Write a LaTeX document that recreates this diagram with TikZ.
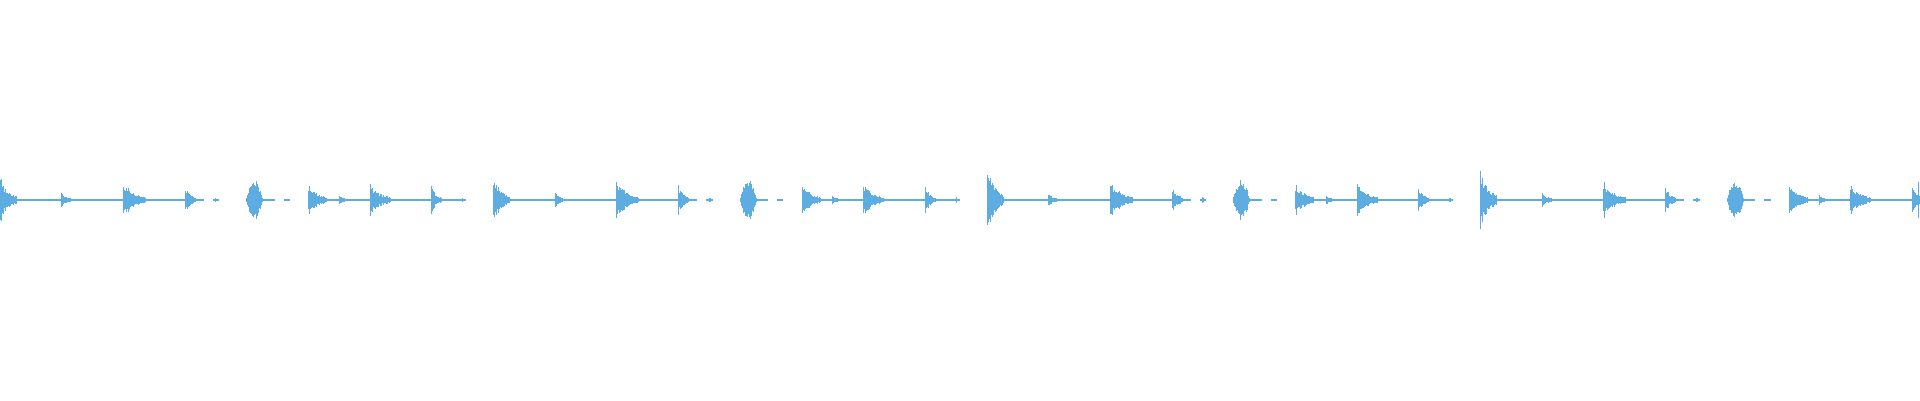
\documentclass[tikz,border=0pt]{standalone}
\usepackage{tikz}
\definecolor{wave}{RGB}{93,173,226}
\tikzset{bar/.style={wave, line width=1pt}, base/.style={wave, line width=1.2pt}}

% decaying hit: x, amplitude, length
\newcommand{\wavehit}[3]{%
  \foreach \i in {0,...,#3} {
    \pgfmathsetmacro{\amp}{#2*exp(-2*\i/#3)*(0.5+0.5*rnd)+0.8}
    \draw[bar] (#1+\i, 200-\amp) -- (#1+\i, 200+\amp);
  }}
% swelling blob: x, amplitude, length
\newcommand{\waveblob}[3]{%
  \foreach \i in {0,...,#3} {
    \pgfmathsetmacro{\amp}{#2*sin(180*(\i+0.5)/(#3+1))*(0.6+0.4*rnd)+0.8}
    \draw[bar] (#1+\i, 200-\amp) -- (#1+\i, 200+\amp);
  }}

\begin{document}
\pgfmathsetseed{11}
\begin{tikzpicture}[x=1pt, y=1pt]
  \useasboundingbox (0,0) rectangle (1920,400);
  \newcommand{\beat}{61.7}

  \foreach \p/\big in {0/23, 493.5/24, 987/36, 1480.5/32} {
    % baseline
    \draw[base] (\p, 200) -- (\p+3.3*\beat, 200);
    \draw[base] (\p+3.45*\beat, 200) -- (\p+3.55*\beat, 200);
    \draw[base] (\p+4.2*\beat, 200) -- (\p+4.45*\beat, 200);
    \draw[base] (\p+4.6*\beat, 200) -- (\p+4.7*\beat, 200);
    \draw[base] (\p+5*\beat, 200) -- (\p+7.5*\beat, 200);
    % hits
    \wavehit{\p}{\big}{16}
    \wavehit{\p+\beat}{7}{9}
    \wavehit{\p+2*\beat}{19}{22}
    \wavehit{\p+3*\beat}{14}{10}
    \wavehit{\p+3.5*\beat}{2}{3}
    \waveblob{\p+4*\beat}{20}{16}
    \wavehit{\p+5*\beat}{16}{18}
    \wavehit{\p+5.5*\beat}{5}{6}
    \wavehit{\p+6*\beat}{16}{20}
    \wavehit{\p+7*\beat}{13}{10}
    \wavehit{\p+7.5*\beat}{2}{3}
  }
  \draw[bar] (1918, 182) -- (1918, 218);
\end{tikzpicture}
\end{document}
